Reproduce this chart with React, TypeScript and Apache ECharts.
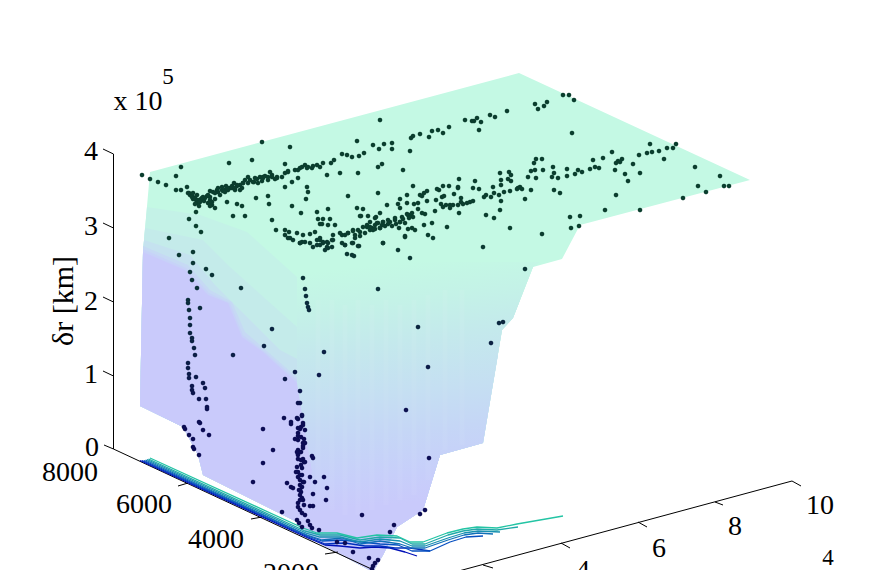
import React, { useEffect, useRef } from "react";
import * as echarts from "echarts";

type P = number[];

// page-space reading of the projected 3-D plot
const edgeTop: P[] = [[150, 172], [519, 73], [750, 180], [580, 225], [562, 259]];
const edgeRight: P[] = [[533, 267], [513, 318], [502, 330], [483, 443], [440, 455], [423, 510], [397, 527], [383, 555], [373, 572]];
const edgeBottom: P[] = [[306, 536], [297, 522], [203, 475], [198, 455], [183, 427], [140, 406]];
const edgeLeft: P[] = [[143, 252], [150, 172]];

const contour1: P[] = [[147, 207], [200, 215], [247, 232], [297, 277], [345, 310], [430, 293], [533, 267]];
const contour2: P[] = [[145, 228], [203, 240], [230, 267], [297, 327], [350, 352], [430, 322], [520, 300]];
const contour3: P[] = [[144, 240], [190, 255], [215, 285], [240, 310], [280, 350], [303, 362], [360, 395], [440, 365], [498, 355]];
const contour4: P[] = [[143, 246], [188, 265], [210, 290], [232, 302], [245, 332], [268, 352], [300, 380], [360, 430], [440, 405], [490, 400]];
const contour5: P[] = [[143, 249], [186, 268], [209, 293], [230, 303], [243, 335], [265, 352], [299, 382], [306, 420], [330, 450], [370, 460], [483, 443]];
const contour6: P[] = [[143, 252], [185, 270], [208, 295], [228, 303], [242, 337], [263, 352], [297, 383], [303, 420], [312, 470], [350, 490], [400, 475], [440, 455]];
const contours = [contour1, contour2, contour3, contour4, contour5, contour6];
const bandColors = ["#c4f9e4", "#c4f2e7", "#c4ebea", "#c5e2ef", "#c6d9f4", "#c7d2f8", "#c9cafb"];

const valley: P[] = [[297, 262], [540, 262], [533, 267], [513, 318], [502, 330], [483, 443], [440, 455], [423, 510], [397, 527], [383, 555], [373, 572], [306, 536], [312, 470], [303, 420], [297, 383], [297, 277]];
const valleyStops: [number, string][] = [[0, "#c4f9e4"], [0.14, "#c4f2e7"], [0.29, "#c4e9ec"], [0.48, "#c5dff2"], [0.63, "#c5d6f6"], [0.78, "#c7cffa"], [0.89, "#c9cafb"], [1, "#c9cafb"]];
const streaks: P[][] = [[[318, 300], [318, 500]], [[332, 300], [332, 510]], [[345, 305], [345, 515]], [[358, 300], [358, 515]], [[372, 305], [372, 510]], [[386, 300], [386, 505]], [[400, 305], [400, 500]], [[414, 300], [414, 495]], [[428, 295], [428, 480]], [[445, 290], [445, 450]], [[462, 290], [462, 445]]];

const ribbon1: P[] = [[150, 458], [303, 528], [317, 533], [337, 533], [357, 538], [377, 535], [397, 536], [410, 542], [423, 542], [447, 533], [463, 529], [477, 527], [497, 528], [517, 524], [563, 516]];
const ribbon2: P[] = [[148.5, 459], [305, 531], [320, 535], [340, 535], [360, 540], [380, 537], [400, 538], [412, 544], [425, 544], [448, 535], [463, 531], [477, 529], [497, 530], [518, 527]];
const ribbon3: P[] = [[147, 459.5], [306, 533], [320, 537], [340, 537], [360, 542], [380, 539], [400, 541], [412, 546], [425, 546], [448, 538], [464, 533], [478, 531], [500, 532]];
const ribbon4: P[] = [[145.5, 460], [307, 535], [322, 540], [342, 538], [360, 544], [380, 541], [400, 544], [412, 548], [425, 548], [448, 540], [464, 535], [478, 533], [493, 534]];
const ribbon5: P[] = [[144, 460.5], [308, 536], [322, 541], [342, 540], [362, 542], [380, 544], [398, 545], [412, 551], [430, 551], [450, 542], [466, 537], [483, 536]];
const ribbon6: P[] = [[142, 460.5], [308, 537], [325, 544], [345, 543], [365, 546], [380, 546], [395, 548], [410, 548], [430, 551]];
const ribbon7: P[] = [[140, 460.5], [308, 538], [325, 545], [340, 546], [360, 548], [375, 547], [390, 548], [405, 552], [417, 556]];
const ribbons = [ribbon7, ribbon6, ribbon5, ribbon4, ribbon3, ribbon2, ribbon1];
const ribbonColors = ["#0010b8", "#0030bc", "#0850c0", "#1070b8", "#1890b0", "#20a8a8", "#23c4a4"];

const pointsUpper: P[] = [
  [142,175],[150,179],[158,182],[166,185],[176,190],[181,190],[187,187],[176,176],[181,167],[229,163],[252,160],[262,142],[290,147],[357,141],[380,120],[373,145],[379,149],[384,144],[392,143],[392,149],[364,153],[359,156],[352,157],[347,155],[342,154],[382,164],[378,167],[358,173],[340,173],[327,175],[334,160],[331,163],[323,163],[317,165],[308,167],[300,168],[298,178],[292,182],[285,187],[282,177],[285,164],[277,177],[272,175],[263,177],[257,179],[248,177],[243,183],[237,186],[230,188],[223,191],[217,190],[210,191],
  [190,195],[193,197],[196,200],[198,203],[201,199],[204,201],[208,203],[195,204],[199,206],[193,199],[203,197],[207,196],[210,200],[212,205],[215,199],[189,193],[225,192],[228,188],[232,186],[235,190],[240,185],[245,180],[250,180],[255,178],[260,177],[265,176],[268,177],[270,172],[220,195],[226,186],[234,183],[242,188],[254,182],[262,181],[275,179],[288,171],[295,170],[305,165],[312,168],[320,167],
  [188,193],[192,197],[195,198],[198,200],[200,202],[197,195],[210,197],[213,192],[218,188],[222,190],[225,190],[228,190],[232,188],[237,185],[240,190],[243,183],[248,183],[253,182],[258,183],[263,178],[268,180],[272,177],[277,178],[285,173],[288,172],[298,170],[302,167],[307,168],[313,166],[218,192],[222,187],[227,188],[235,188],[205,198],[208,195],[215,193],[212,202],[210,203],[193,193],[202,198],
  [563,95],[569,95],[574,100],[535,104],[538,109],[544,106],[547,102],[507,111],[490,115],[495,117],[481,122],[477,118],[474,121],[472,121],[465,120],[479,130],[449,127],[443,133],[438,130],[432,131],[429,137],[420,134],[413,136],[411,138],[410,151],[403,170],[572,133],
  [196,212],[189,219],[196,226],[201,232],[169,238],[215,208],[210,206],[227,202],[237,204],[242,206],[233,216],[245,216],[256,198],[268,196],[269,204],[272,220],[276,230],[292,206],[301,213],[307,187],[308,192],[306,199],[317,212],[328,209],[323,219],[330,219],[320,224],[348,196],[378,193],[357,208],[363,209],[387,205],[380,213],[376,217],[368,216],[361,216],[398,204],[383,243],[398,250],[347,254],[354,256]
];
const pointsLower: P[] = [
  [285,230],[289,232],[297,233],[303,235],[310,234],[315,232],[290,238],[293,240],[300,243],[305,242],[310,243],[320,240],[327,242],[332,240],[317,245],[323,243],[328,248],[325,250],[333,235],[342,235],[348,233],[353,230],[360,232],[367,227],[372,228],[377,223],[382,225],[383,222],[390,222],[395,220],[345,245],[353,243],[358,246],[355,238],[360,236],[365,233],[370,230],[375,229],[380,228],[385,226],[388,224],[392,226],[396,224],[400,222],
  [285,235],[288,238],[302,242],[313,247],[317,240],[320,238],[323,242],[328,243],[332,247],[333,240],[340,233],[345,235],[348,233],[353,231],[358,230],[363,227],[367,225],[370,227],[375,225],[378,223],[383,222],[388,220],[395,218],[402,217],[408,215],[412,213],[370,222],[373,230],[380,228],[355,235],[342,243],[345,245],[352,243],[300,243],[320,245],[327,247],[318,219],[322,224],[328,225],[335,225],[360,216],[375,218],[400,208],[399,228],[405,237],[383,243],[359,246],[352,255],
  [650,144],[676,144],[673,148],[667,148],[659,151],[652,152],[647,153],[639,155],[664,159],[633,164],[695,167],[720,176],[724,186],[729,186],[698,186],[706,192],[683,198],[640,210],[605,210],[616,195],[628,181],[625,174],[640,173],[615,170],[612,152],[618,161],[622,159],[616,163],[620,162],[603,158],[593,160],[599,168],[595,167],[590,169],[582,172],[578,170],[575,174],[567,169],[567,176],[558,178],[552,177],[553,167],[554,173],[543,170],[536,159],[542,159],[534,163],[535,170],[531,171],[536,178],[528,177],[554,190],[560,193],[531,190],[525,199],[518,188],[520,187],[517,189],[522,189],[509,172],[511,175],[500,173],[508,179],[511,181],[501,180],[501,185],[493,187],[504,192],[510,191],[494,193],[499,195],[491,197],[486,195],[484,197],[501,201],[500,210],[494,218],[486,215],[510,228],[479,189],[473,188],[475,181],[459,179],[458,187],[449,186],[443,186],[437,189],[439,190],[427,191],[424,193],[420,195],[422,196],[413,186],[407,195],[400,199],[407,203],[414,204],[418,203],[427,201],[442,197],[444,196],[436,200],[454,194],[461,198],[458,188],[441,204],[443,207],[446,205],[450,205],[450,208],[453,205],[458,205],[461,202],[463,204],[467,203],[470,202],[473,201],[435,211],[418,209],[425,214],[422,213],[459,213],[410,215],[407,214],[413,217],[409,218],[403,219],[400,222],[405,223],[424,225],[432,223],[447,227],[412,228],[408,229],[415,230],[405,236],[428,235],[433,238],[483,247],[542,234],[571,228],[579,226],[570,217],[580,216],[525,269],[410,258]
];
const pointsFace: P[] = [
  [179,255],[193,252],[193,263],[206,269],[212,275],[190,272],[192,280],[197,288],[241,288],[188,300],[188,303],[189,310],[200,308],[190,318],[190,325],[190,333],[192,338],[192,341],[194,348],[195,355],[233,355],[272,329],[264,346],[295,372],[285,379],[303,278],[305,289],[306,296],[307,303],[308,307],[309,310],[378,289],[324,352],[319,375],[300,391],[298,403],[300,403],[302,416],[284,418],[291,422],[291,424],[298,419],[188,363],[188,368],[189,374],[189,378],[196,377],[203,383],[205,388],[192,386],[192,390],[193,393],[199,399],[206,399],[207,407],[207,409],[199,422],[200,423],[184,427],[185,429],[203,430],[209,435],[189,435],[193,439],[193,447],[194,449],[199,455],[263,429],[273,450],
  [303,423],[301,427],[298,428],[298,433],[305,430],[295,439],[298,440],[304,439],[303,443],[305,443],[303,448],[298,450],[298,455],[312,456],[298,459],[303,459],[313,458],[298,454],[263,463],[253,482],[301,460],[304,462],[298,472],[296,472],[302,468],[298,477],[300,480],[303,482],[302,487],[301,492],[300,495],[302,498],[298,503],[300,510],[302,513],[297,520],[299,523],[302,527],[287,483],[291,487],[293,488],[310,477],[315,482],[324,477],[327,488],[313,494],[326,500],[304,505],[310,506],[313,506],[282,512],[308,521],[310,525],[312,528],[319,530],[429,458],[362,515],[425,510],[420,514],[394,525],[390,532],[353,552],[369,558],[378,560],[375,563],[373,566],[372,569],[337,542],[345,543],[301,465],[302,475],[300,485],[299,490],[303,500],[298,507],[305,515],[418,327],[428,367],[406,410],[491,343],[499,323],[503,322],
  [302,415],[297,418],[303,425],[300,429],[297,452],[305,462],[297,467],[300,475],[304,482],[300,490],[300,500],[298,436],[301,437],[303,446],[301,452]
];

const zAxisLine: P[] = [[113.5, 154], [113.5, 449]];
const yAxisLine: P[] = [[113.5, 449], [380, 573]];
const xAxisLine: P[] = [[792, 481], [455, 572]];
const zTicks: P[][] = [[[113.5, 154], [103, 149]], [[113.5, 228], [103, 223]], [[113.5, 302], [103, 297]], [[113.5, 376], [103, 371]], [[113.5, 449], [104, 445]]];
const yTicks: P[][] = [[[188, 483], [178, 486]], [[262, 517], [251, 519]], [[338, 552], [325, 554]]];
const xTicks: P[][] = [[[792, 481], [801, 486]], [[715, 502], [723, 505]], [[638, 522], [647, 527]], [[561, 543], [570, 548]], [[483, 565], [493, 568]]];

const zLabels = ["4", "3", "2", "1", "0"];
const zLabelPos: P[] = [[91, 150], [91, 225], [91, 300], [91, 373], [92, 446]];
const yLabels = ["8000", "6000", "4000", "2000"];
const yLabelPos: P[] = [[70, 471], [144, 503], [216, 538], [291, 572]];
const xLabels = ["10", "8", "6", "4"];
const xLabelPos: P[] = [[820, 504], [735, 525], [659, 547], [583, 569]];

const FONT = "'Liberation Serif', 'Times New Roman', serif";

function mix(a: number[], b: number[], t: number) {
  const c = a.map((v, i) => Math.round(v + (b[i] - v) * t));
  return `rgb(${c[0]},${c[1]},${c[2]})`;
}

function bandPolygon(i: number): P[] {
  if (i === 0) return [...edgeTop, ...edgeRight, ...edgeBottom, ...edgeLeft];
  const c = contours[i - 1];
  const r = c[c.length - 1][1];
  const l = c[0][1];
  return [...c, ...edgeRight.filter((p) => p[1] > r), ...edgeBottom, ...edgeLeft.filter((p) => p[1] > l)];
}

export default function App() {
  const ref = useRef<HTMLDivElement>(null);
  useEffect(() => {
    document.body.style.margin = "0";
    const chart = echarts.init(ref.current!, undefined, { renderer: "svg" });
    const text = (s: string, p: P, size = 28) => ({
      type: "text",
      x: p[0],
      y: p[1],
      silent: true,
      style: { text: s, font: `${size}px ${FONT}`, fill: "#000", align: "center", verticalAlign: "middle" },
    });
    const thinLine = (data: P[], color = "#000", width = 1, z = 5, opacity = 1) => ({
      type: "line",
      data,
      showSymbol: false,
      silent: true,
      clip: true,
      z,
      lineStyle: { color, width, opacity },
    });
    const scatterColor = (params: any) => {
      const t = Math.min(1, Math.max(0, (params.value[1] - 230) / 200));
      return mix([11, 62, 46], [12, 12, 84], t);
    };
    const valleyFill = new echarts.graphic.LinearGradient(400, 262, 430, 530, valleyStops.map(([offset, color]) => ({ offset, color })), true);
    chart.setOption({
      animation: false,
      backgroundColor: "#fff",
      grid: { left: 0, right: 0, top: 0, bottom: 0 },
      xAxis: { type: "value", min: 0, max: 875, show: false },
      yAxis: { type: "value", min: 0, max: 570, inverse: true, show: false },
      tooltip: { show: false },
      series: [
        {
          type: "custom",
          silent: true,
          z: 1,
          data: bandColors.map((_, i) => [i]),
          renderItem: (_: any, api: any) => {
            const i = api.value(0);
            return {
              type: "polygon",
              shape: { points: bandPolygon(i).map((p) => api.coord(p)) },
              style: { fill: bandColors[i], stroke: "none" },
            };
          },
        },
        {
          type: "custom",
          silent: true,
          z: 2,
          data: [[0]],
          renderItem: (_: any, api: any) => ({
            type: "polygon",
            shape: { points: valley.map((p) => api.coord(p)) },
            style: { fill: valleyFill, stroke: "none" },
          }),
        },
        ...streaks.map((s) => thinLine(s, "#ffffff", 5, 3, 0.05)),
        thinLine(zAxisLine),
        thinLine(yAxisLine),
        thinLine(xAxisLine),
        ...[...zTicks, ...yTicks, ...xTicks].map((t) => thinLine(t)),
        ...ribbons.map((r, i) => thinLine(r, ribbonColors[i], 1.3, 6)),
        {
          type: "scatter",
          z: 7,
          silent: true,
          symbol: "circle",
          symbolSize: 4.6,
          data: [...pointsUpper, ...pointsLower, ...pointsFace],
          itemStyle: { color: scatterColor, opacity: 1 },
        },
      ],
      graphic: [
        ...zLabels.map((s, i) => text(s, zLabelPos[i])),
        ...yLabels.map((s, i) => text(s, yLabelPos[i])),
        ...xLabels.map((s, i) => text(s, xLabelPos[i])),
        text("x 10", [138, 100]),
        text("5", [168, 76], 23),
        text("4", [828, 557], 23),
        { ...text("δr [km]", [62, 301], 30), rotation: Math.PI / 2 },
      ],
    });
    return () => chart.dispose();
  }, []);
  return <div ref={ref} style={{ width: 875, height: 570 }} />;
}
